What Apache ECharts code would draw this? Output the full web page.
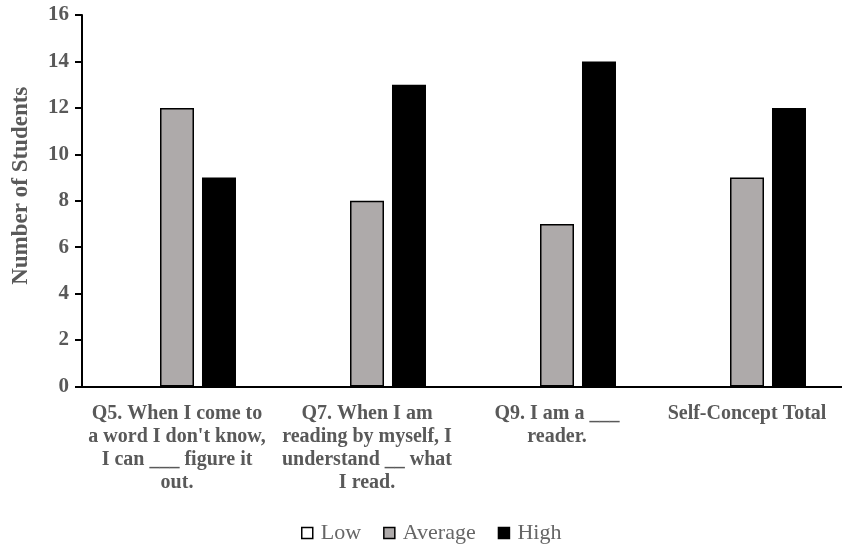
<!DOCTYPE html>
<html><head><meta charset="utf-8">
<script src="https://cdn.jsdelivr.net/npm/echarts@6/dist/echarts.min.js"></script>
<style>html,body{margin:0;padding:0;background:#fff}#c{width:842px;height:546px}</style>
</head><body><div id="c"></div>
<script>
const categories = [
  "Q5. When I come to\na word I don't know,\nI can ___ figure it\nout.",
  "Q7. When I am\nreading by myself, I\nunderstand __ what\nI read.",
  "Q9. I am a ___\nreader.",
  "Self-Concept Total"
];
const seriesNames = ["Low", "Average", "High"];
const lowValues = [0, 0, 0, 0];
const averageValues = [12, 8, 7, 9];
const highValues = [9, 13, 14, 12];
const yTicks = { min: 0, max: 16, interval: 2 };

const font = "'Liberation Serif', 'Times New Roman', serif";
const gray = '#595959';
const chart = echarts.init(document.getElementById('c'), null, { renderer: 'canvas' });
const colors = ['#ffffff', '#aeaaaa', '#000000'];
const values = [lowValues, averageValues, highValues];
chart.setOption({
  animation: false,
  textStyle: { fontFamily: font },
  grid: { left: 82, right: -11, top: 15, bottom: 159.5, containLabel: false },
  legend: {
    left: 296, top: 517,
    itemWidth: 11, itemHeight: 11, itemGap: 22,
    icon: 'rect',
    textStyle: { color: '#666666', fontSize: 22, fontFamily: font, padding: [0, 0, 0, 3] },
    data: seriesNames.map((n, i) => ({ name: n, itemStyle: { color: colors[i], borderColor: '#000', borderWidth: 1.5 } }))
  },
  xAxis: {
    type: 'category',
    data: categories,
    axisLine: { lineStyle: { color: '#000', width: 2 } },
    axisTick: { show: false },
    axisLabel: { color: gray, fontSize: 20, fontWeight: 'bold', fontFamily: font, lineHeight: 23, margin: 16, interval: 0 }
  },
  yAxis: {
    type: 'value',
    min: yTicks.min, max: yTicks.max, interval: yTicks.interval,
    name: 'Number of Students',
    nameLocation: 'middle', nameGap: 49,
    nameTextStyle: { color: gray, fontSize: 23, fontWeight: 'bold', fontFamily: font, padding: [0, 0, 0, 30] },
    axisLine: { show: true, lineStyle: { color: '#000', width: 2 } },
    axisTick: { show: true, length: 7, lineStyle: { color: '#000', width: 2 } },
    axisLabel: { color: gray, fontSize: 21, fontWeight: 'bold', fontFamily: font, margin: 13 },
    splitLine: { show: false }
  },
  series: seriesNames.map((n, i) => ({
    name: n,
    type: 'bar',
    data: values[i],
    barWidth: 34,
    barGap: '23.5%',
    itemStyle: { color: colors[i], borderColor: '#000', borderWidth: i === 0 ? 0 : 1.5 }
  }))
});
</script></body></html>
